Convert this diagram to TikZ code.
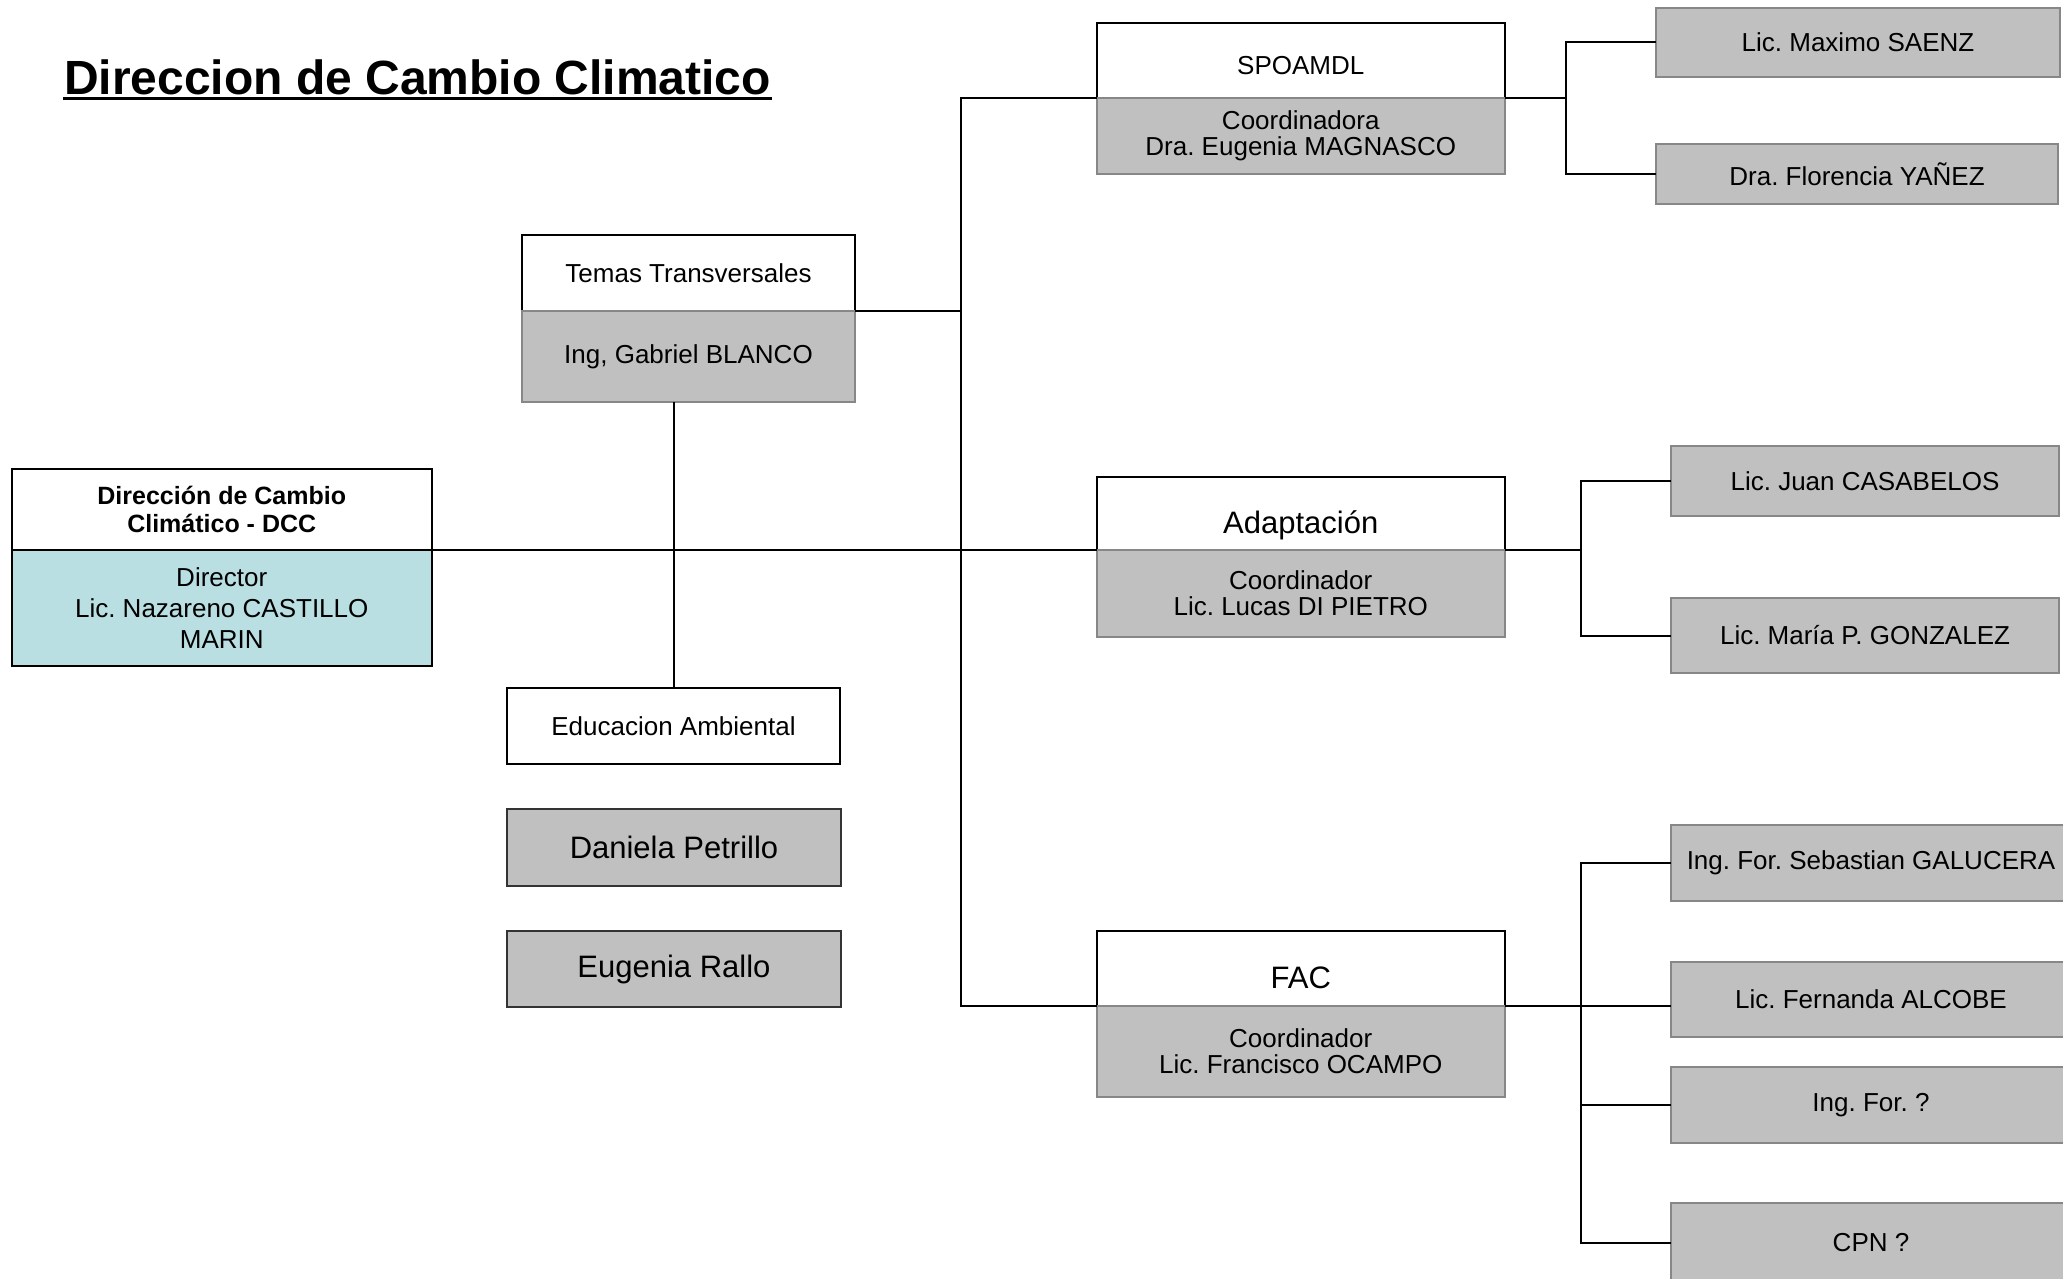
\documentclass[tikz,border=0pt]{standalone}
\usepackage{fontspec}
\setmainfont{Liberation Sans}
\usepackage{tikz}
\usetikzlibrary{positioning}
\definecolor{boxgray}{RGB}{192,192,192}
\definecolor{boxedge}{RGB}{135,135,135}
\definecolor{dirteal}{RGB}{185,223,227}
\frenchspacing

\begin{document}
\begin{tikzpicture}[x=1pt, y=-1pt, line width=2pt,
  base/.style={draw, inner sep=0pt, outer sep=0pt, align=center, anchor=north west, font=\fontsize{26}{26}\selectfont},
  headbox/.style={base, fill=white},
  bodybox/.style={base, draw=boxedge, fill=boxgray},
  staffbox/.style={base, draw=boxedge, fill=boxgray},
  bigbox/.style={base, draw=black!80, fill=boxgray, font=\fontsize{31}{31}\selectfont},
  lowtext/.style={text height=#1, text depth=0pt}]
  \useasboundingbox (0,0) rectangle (2063,1279);

  \node[inner sep=0pt, anchor=base west, font=\fontsize{48}{48}\selectfont\bfseries] (title) at (63,95) {Direccion de Cambio Climatico};
  \draw[line width=3pt] ([yshift=-3.5pt]title.base west) -- ([yshift=-3.5pt]title.base east);

  \node[headbox, minimum width=420.5, minimum height=81, font=\fontsize{25}{28}\selectfont\bfseries] (dcch) at (11.5,469) {Dirección de Cambio\\Climático - DCC};
  \node[base, fill=dirteal, minimum width=420.5, minimum height=116, font=\fontsize{26}{31}\selectfont, below=0pt of dcch] (dccb) {Director\\Lic. Nazareno CASTILLO\\MARIN};

  \node[headbox, minimum width=333, minimum height=76] (temh) at (522,235) {Temas Transversales};
  \node[bodybox, minimum width=333, minimum height=91, below=0pt of temh] (temb) {Ing, Gabriel BLANCO};
  \node[headbox, minimum width=333, minimum height=76] (edu) at (507,688) {Educacion Ambiental};
  \node[bigbox, minimum width=334, minimum height=77] (dan) at (507,809) {Daniela Petrillo};
  \node[bigbox, minimum width=334, minimum height=76] (eug) at (507,931) {Eugenia Rallo};

  \node[headbox, lowtext=29pt, minimum width=408.5, minimum height=75] (spoh) at (1096.5,23) {SPOAMDL};
  \node[bodybox, minimum width=408.5, minimum height=76, below=0pt of spoh] (spob) {Coordinadora\\Dra. Eugenia MAGNASCO};
  \node[headbox, lowtext=39pt, minimum width=408.5, minimum height=73, font=\fontsize{31}{31}\selectfont] (adah) at (1096.5,477) {Adaptación};
  \node[bodybox, minimum width=408.5, minimum height=87, below=0pt of adah] (adab) {Coordinador\\Lic. Lucas DI PIETRO};
  \node[headbox, lowtext=39pt, minimum width=408.5, minimum height=75, font=\fontsize{31}{31}\selectfont] (fach) at (1096.5,931) {FAC};
  \node[bodybox, minimum width=408.5, minimum height=91, below=0pt of fach] (facb) {Coordinador\\Lic. Francisco OCAMPO};

  \node[staffbox, minimum width=404, minimum height=69] (max) at (1656,8) {Lic. Maximo SAENZ};
  \node[staffbox, minimum width=402, minimum height=60] (flo) at (1656,144) {Dra. Florencia YAÑEZ};
  \node[staffbox, minimum width=388, minimum height=70] (jua) at (1671,446) {Lic. Juan CASABELOS};
  \node[staffbox, minimum width=388, minimum height=75] (mar) at (1671,598) {Lic. María P. GONZALEZ};
  \node[staffbox, minimum width=400, minimum height=76] (seb) at (1671,825) {Ing. For. Sebastian GALUCERA};
  \node[staffbox, minimum width=400, minimum height=75] (fer) at (1671,962) {Lic. Fernanda ALCOBE};
  \node[staffbox, minimum width=400, minimum height=76] (ingf) at (1671,1067) {Ing. For. ?};
  \node[staffbox, minimum width=400, minimum height=80] (cpn) at (1671,1203) {CPN ?};

  \coordinate (trunk) at (960.5,98);
  \coordinate (spofork) at (1565.5,98);
  \coordinate (adafork) at (1581,550);
  \coordinate (facfork) at (1581,1006);

  \draw (dccb.north east) -- (adab.north west);
  \draw (spob.north west) -- (spob.north west -| trunk) |- (facb.north west);
  \draw (temb.north east) -- (temb.north east -| trunk);
  \draw (edu.north) -- (edu.north |- temb.south);

  \draw (spob.north east) -- (spofork);
  \draw (max.west) -| (spofork) |- (flo.west);
  \draw (adab.north east) -- (adafork);
  \draw (jua.west) -| (adafork) |- (mar.west);
  \draw (facb.north east) -- (facb.north east -| fer.west);
  \draw (seb.west) -| (facfork) |- (cpn.west);
  \draw (ingf.west) -- (ingf.west -| facfork);
\end{tikzpicture}
\end{document}
